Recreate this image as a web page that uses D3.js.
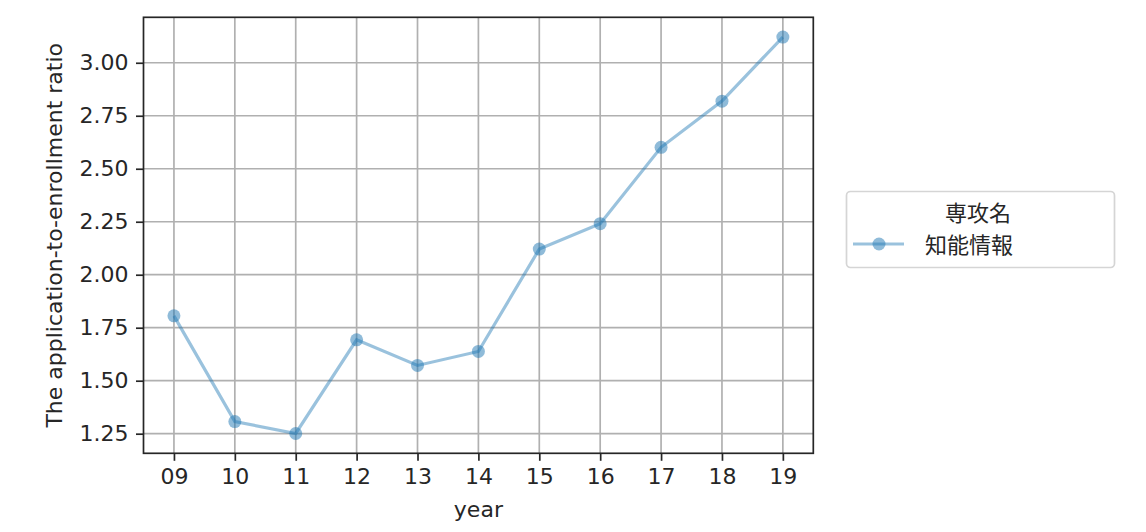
<!DOCTYPE html>
<html>
<head>
<meta charset="utf-8">
<script src="https://cdn.jsdelivr.net/npm/d3@7"></script>
<style>
  html, body { margin: 0; padding: 0; background: #fff; }
  svg { display: block; }
  text { font-family: "DejaVu Sans", "Noto Sans CJK JP", sans-serif; fill: #262626; }
  text.cjk { font-family: "Noto Sans CJK JP", sans-serif; }
</style>
</head>
<body>
<svg id="chart" width="1146" height="532"></svg>
<script>
// ---- data ----
const years = ["09", "10", "11", "12", "13", "14", "15", "16", "17", "18", "19"];
const ratios = [1.806, 1.307, 1.251, 1.693, 1.572, 1.638, 2.121, 2.241, 2.601, 2.819, 3.121];
const yTicks = [1.25, 1.50, 1.75, 2.00, 2.25, 2.50, 2.75, 3.00];
const seriesName = "知能情報";
const legendTitle = "専攻名";
const xLabel = "year";
const yLabel = "The application-to-enrollment ratio";

// ---- layout ----
const plot = { left: 143.5, right: 813.3, top: 17.3, bottom: 453.3 };
const color = "#1f77b4";
const fontSize = 22;
const ink = "#262626";

const svg = d3.select("#chart");

const x = d3.scalePoint().domain(years).range([plot.left, plot.right]).padding(0.5);
const yMin = d3.min(ratios), yMax = d3.max(ratios), pad = (yMax - yMin) * 0.05;
const y = d3.scaleLinear().domain([yMin - pad, yMax + pad]).range([plot.bottom, plot.top]);

// grid
const grid = svg.append("g");
grid.selectAll("line.v").data(years).enter().append("line")
  .attr("x1", d => x(d)).attr("x2", d => x(d))
  .attr("y1", plot.top).attr("y2", plot.bottom)
  .attr("stroke", "#b0b0b0").attr("stroke-width", 1.7);
grid.selectAll("line.h").data(yTicks).enter().append("line")
  .attr("x1", plot.left).attr("x2", plot.right)
  .attr("y1", d => y(d)).attr("y2", d => y(d))
  .attr("stroke", "#b0b0b0").attr("stroke-width", 1.7);

// axes
const xAxis = d3.axisBottom(x).tickSize(7.5).tickPadding(7.5);
const yAxis = d3.axisLeft(y).tickValues(yTicks).tickFormat(d3.format(".2f")).tickSize(7.5).tickPadding(7.5);

const gx = svg.append("g").attr("transform", `translate(0,${plot.bottom})`).call(xAxis);
const gy = svg.append("g").attr("transform", `translate(${plot.left},0)`).call(yAxis);
[gx, gy].forEach(g => {
  g.select(".domain").remove();
  g.selectAll(".tick line").attr("stroke", ink).attr("stroke-width", 1.7);
  g.selectAll(".tick text").attr("font-size", fontSize).attr("fill", ink)
    .style("font-family", '"DejaVu Sans", sans-serif');
});

// frame
svg.append("rect")
  .attr("x", plot.left).attr("y", plot.top)
  .attr("width", plot.right - plot.left).attr("height", plot.bottom - plot.top)
  .attr("fill", "none").attr("stroke", ink).attr("stroke-width", 1.7);

// series
const line = d3.line().x((d, i) => x(years[i])).y(d => y(d));
svg.append("path").datum(ratios)
  .attr("d", line).attr("fill", "none")
  .attr("stroke", color).attr("stroke-opacity", 0.45).attr("stroke-width", 3.2);
svg.append("g").selectAll("circle").data(ratios).enter().append("circle")
  .attr("cx", (d, i) => x(years[i])).attr("cy", d => y(d)).attr("r", 6.5)
  .attr("fill", color).attr("fill-opacity", 0.5);

// labels
svg.append("text")
  .attr("x", (plot.left + plot.right) / 2).attr("y", 517)
  .attr("text-anchor", "middle").attr("font-size", fontSize).text(xLabel);
svg.append("text")
  .attr("transform", `translate(62,${(plot.top + plot.bottom) / 2}) rotate(-90)`)
  .attr("text-anchor", "middle").attr("font-size", fontSize).text(yLabel);

// legend
const lg = svg.append("g");
lg.append("rect").attr("x", 846.5).attr("y", 191.5).attr("width", 268).attr("height", 76)
  .attr("rx", 4).attr("fill", "#fff").attr("stroke", "#d5d5d5").attr("stroke-width", 1.7);
lg.append("text").attr("class", "cjk").attr("x", 978).attr("y", 221).attr("text-anchor", "middle")
  .attr("font-size", 22).text(legendTitle);
lg.append("line").attr("x1", 853).attr("x2", 904).attr("y1", 244).attr("y2", 244)
  .attr("stroke", color).attr("stroke-opacity", 0.45).attr("stroke-width", 3.2);
lg.append("circle").attr("cx", 879).attr("cy", 244).attr("r", 6.5)
  .attr("fill", color).attr("fill-opacity", 0.5);
lg.append("text").attr("class", "cjk").attr("x", 925).attr("y", 253)
  .attr("font-size", 22).text(seriesName);
</script>
</body>
</html>
